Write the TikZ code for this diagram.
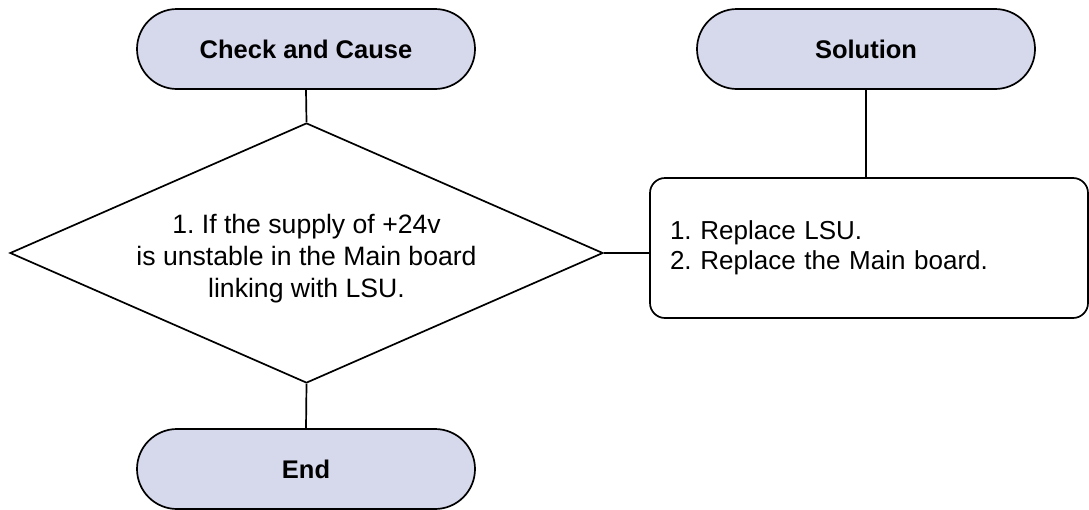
\documentclass[tikz,border=0pt]{standalone}
\usepackage{fontspec}
\setmainfont{Liberation Sans}
\usetikzlibrary{shapes.geometric}
\definecolor{lav}{RGB}{214,216,236}
\frenchspacing
\tikzset{
  term/.style={draw=black, line width=1.7pt, fill=lav, rounded corners=40pt,
    minimum width=338pt, minimum height=80pt, inner sep=0pt, font=\fontsize{25.5}{30}\selectfont\bfseries},
  dec/.style={draw=black, line width=1.7pt, diamond, minimum width=593pt, minimum height=260pt,
    inner sep=0pt},
  dectext/.style={align=center, inner sep=0pt, font=\fontsize{26.6}{32}\selectfont},
  sol/.style={draw=black, line width=1.7pt, rounded corners=15pt, minimum width=438pt,
    minimum height=140pt, text width=398pt, inner sep=0pt, align=left, font=\fontsize{26}{30}\selectfont},
  conn/.style={draw=black, line width=1.7pt}
}
\begin{document}
\begin{tikzpicture}[x=1pt,y=-1pt]
\useasboundingbox (0,0) rectangle (1089,509);
\node[term] (cc) at (306,49) {Check and Cause};
\node[term] (so) at (866,49) {Solution};
\node[term] (en) at (306,469) {End};
\node[dec, label={[dectext, yshift=-6pt]center:{1. If the supply of +24v\\is unstable in the Main board\\linking with LSU.}}] (d) at (306.5,253) {};
\node[sol] (b) at (869,248) {1. Replace LSU.\\2. Replace the Main board.};
\draw[conn] (cc.south) -- (d.north);
\draw[conn] (d.south) -- (en.north);
\draw[conn] (so.south) -- (so.south |- b.north);
\draw[conn] (d.east) -- (b.west |- d.east);
\end{tikzpicture}
\end{document}
